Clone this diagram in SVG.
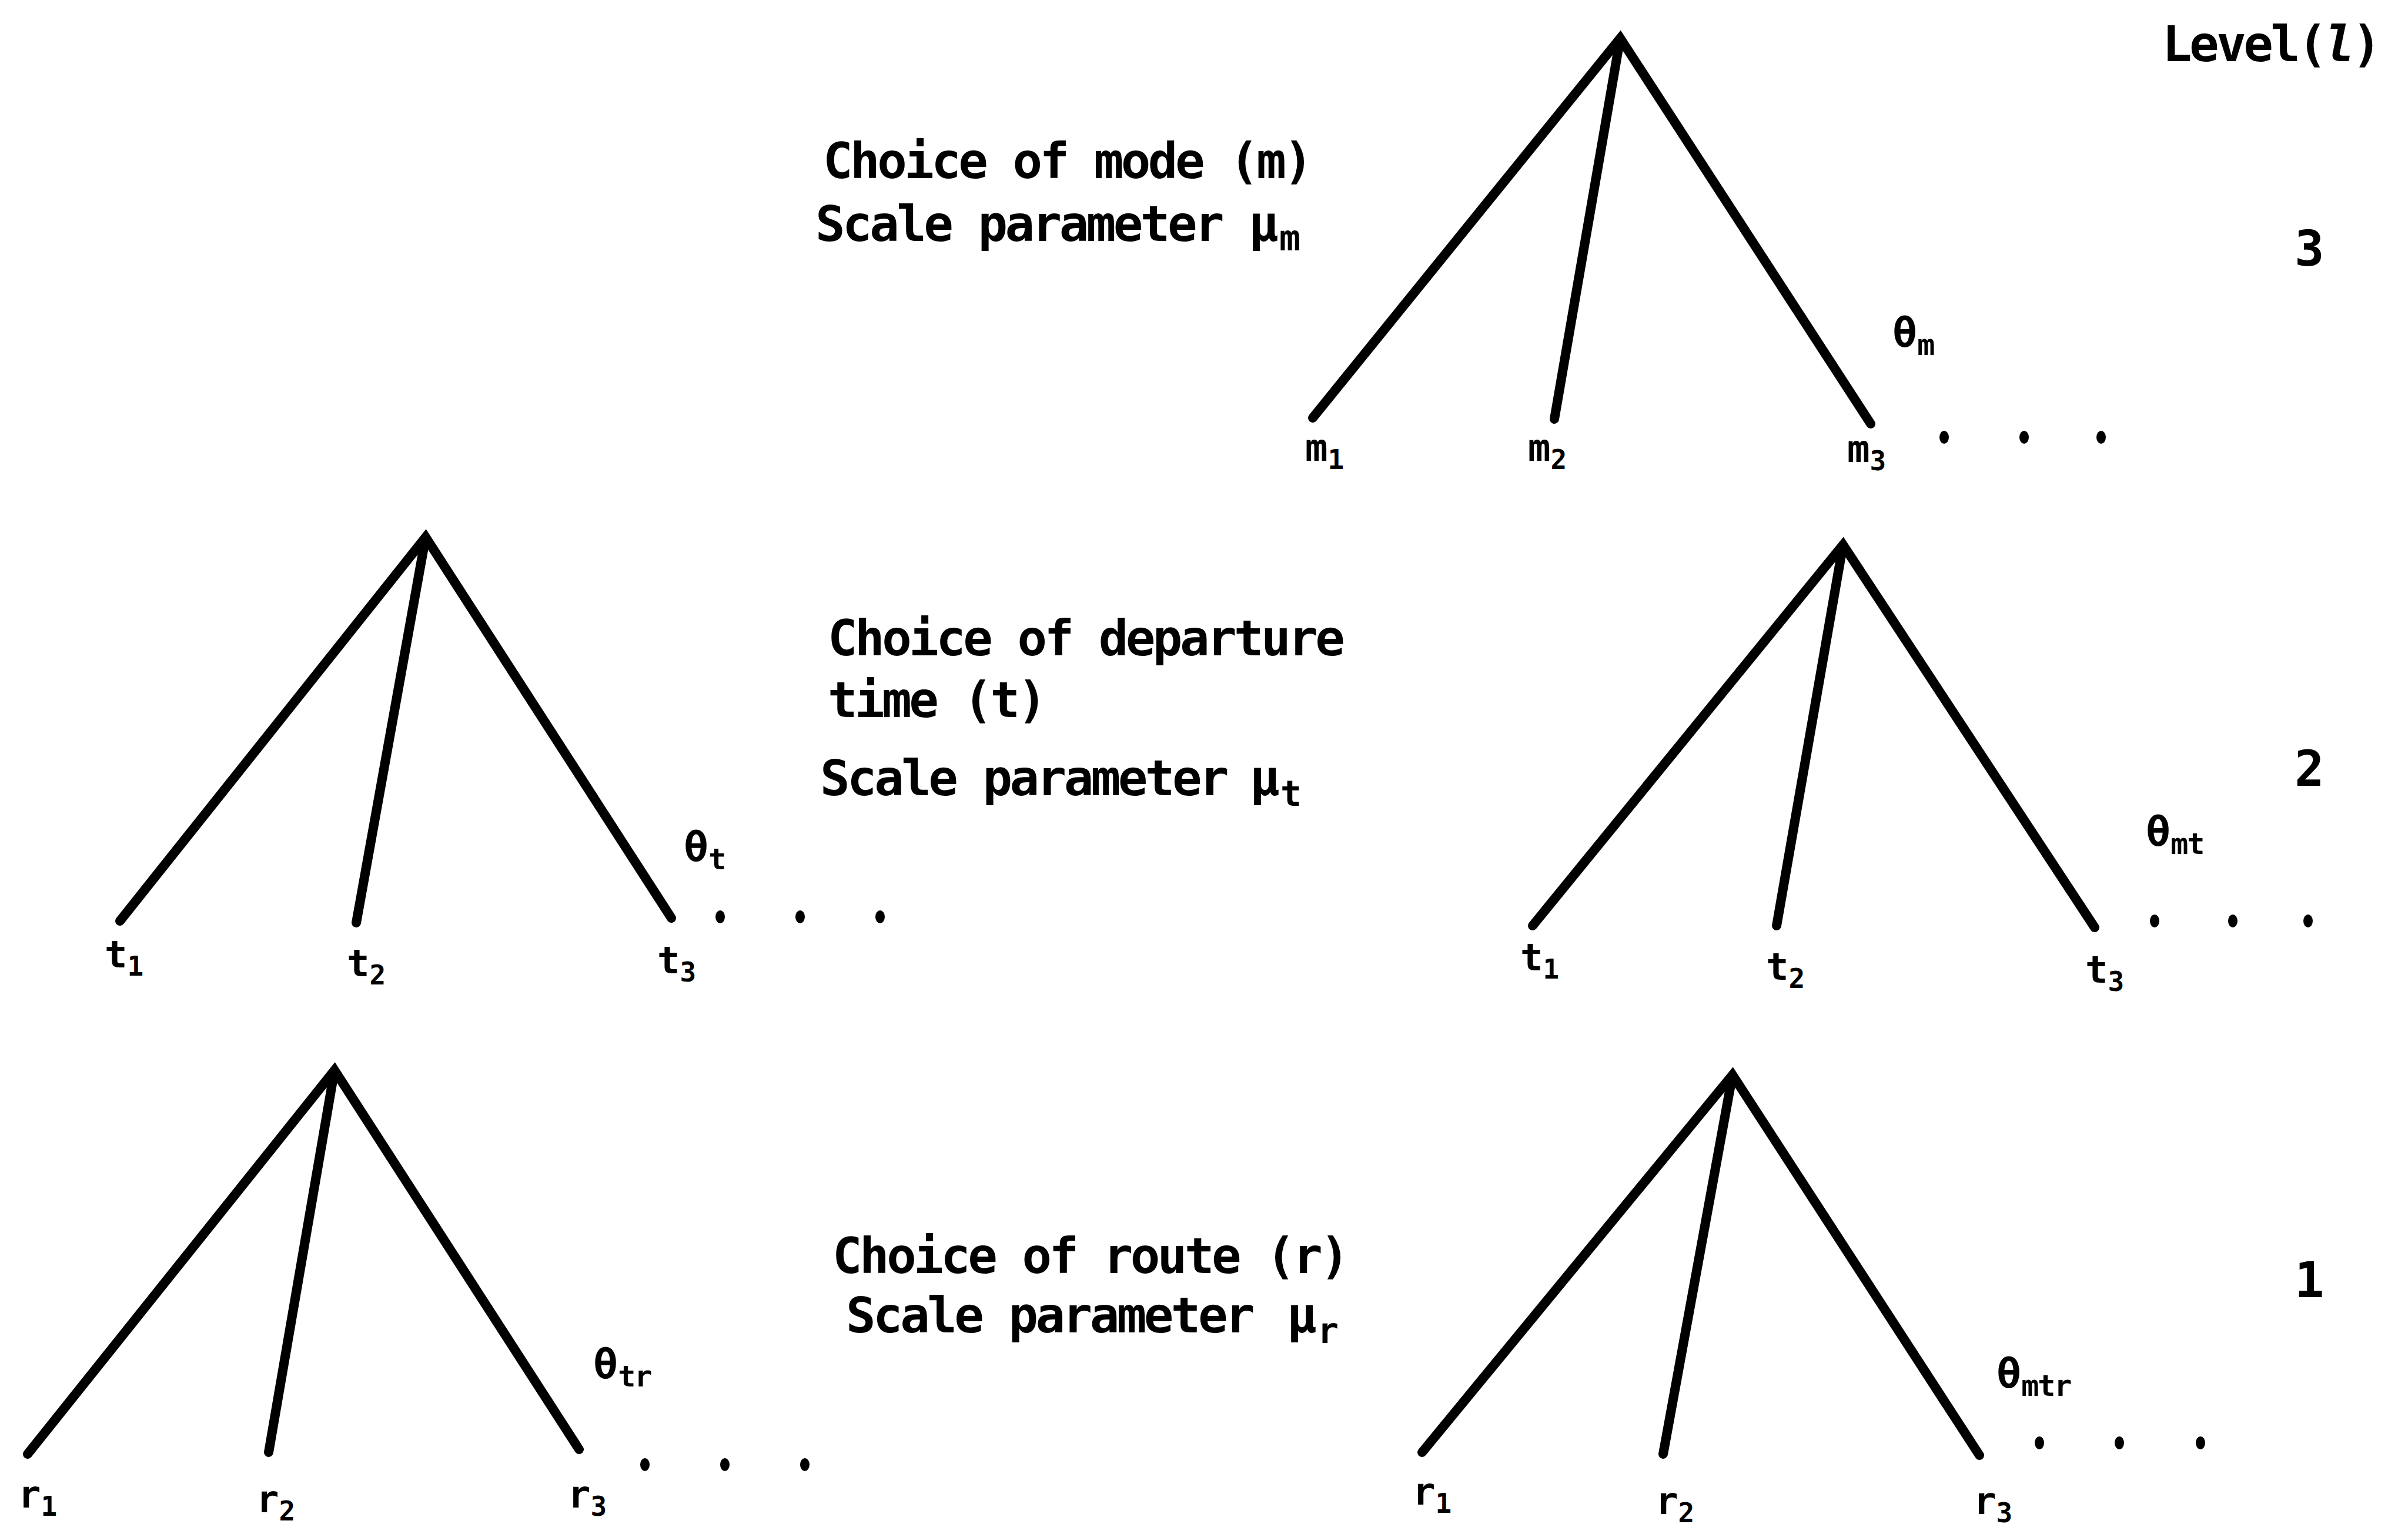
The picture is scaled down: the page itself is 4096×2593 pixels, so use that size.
<svg xmlns="http://www.w3.org/2000/svg" width="4096" height="2593" viewBox="0 0 4096 2593">
<style>
.t{font-family:"DejaVu Sans Mono","Liberation Mono",monospace;font-weight:bold;fill:#000}
.body{font-size:84px;letter-spacing:-4.5px}
.leaf{font-size:64px}
.sub{font-size:46px}
.msub{font-size:60px;letter-spacing:-3px}
.th{font-size:70px}
.tsub{font-size:50px;letter-spacing:-2px}
.leg{stroke:#000;stroke-width:16;fill:none;stroke-linecap:round;stroke-linejoin:miter}
.dot{fill:#000}
</style>
<rect width="4096" height="2593" fill="#fff"/>

<g id="connectors">
  <path class="leg" d="M2233,711 L2756,65 L3182,721 M2756,65 L2644,713"/>
  <path class="leg" d="M204,1567 L724,914 L1142,1562 M724,914 L606,1570"/>
  <path class="leg" d="M2607,1575 L3135,927 L3563,1578 M3135,927 L3022,1575"/>
  <path class="leg" d="M47,2474 L569,1821 L985,2466 M569,1821 L457,2471"/>
  <path class="leg" d="M2419,2471 L2947,1829 L3367,2476 M2947,1829 L2829,2474"/>
</g>

<g id="level-header"><text class="t body" x="3678" y="104">Level(<tspan font-style="italic">l</tspan>)</text></g>
<g id="level-3"><text class="t body" x="3926" y="452" text-anchor="middle">3</text></g>
<g id="level-2"><text class="t body" x="3926" y="1337" text-anchor="middle">2</text></g>
<g id="level-1"><text class="t body" x="3926" y="2207" text-anchor="middle">1</text></g>

<g id="label-mode">
  <text class="t body" x="1400" y="303">Choice of mode (m)</text>
  <text class="t body" x="1387" y="410">Scale parameter <tspan x="2124">μ</tspan><tspan class="msub" dx="6" dy="16">m</tspan></text>
</g>
<g id="label-time">
  <text class="t body" x="1408" y="1115">Choice of departure</text>
  <text class="t body" x="1408" y="1220">time (t)</text>
  <text class="t body" x="1395" y="1353">Scale parameter <tspan x="2126">μ</tspan><tspan class="msub" dx="6" dy="18">t</tspan></text>
</g>
<g id="label-route">
  <text class="t body" x="1416" y="2166">Choice of route (r)</text>
  <text class="t body" x="1439" y="2267">Scale parameter <tspan x="2189">μ</tspan><tspan class="msub" dx="6" dy="18">r</tspan></text>
</g>

<g id="tree-mode">
  <g id="node-m1"><text class="t leaf" x="2220" y="784">m<tspan class="sub" dy="14">1</tspan></text></g>
  <g id="node-m2"><text class="t leaf" x="2599" y="784">m<tspan class="sub" dy="14">2</tspan></text></g>
  <g id="node-m3"><text class="t leaf" x="3142" y="786">m<tspan class="sub" dy="14">3</tspan></text></g>
  <g id="theta-m"><text class="t th" x="3219" y="590">θ<tspan class="tsub" dy="14">m</tspan></text></g>
  <g id="dots-m"><ellipse class="dot" cx="3307" cy="744" rx="8" ry="11"/><ellipse class="dot" cx="3443" cy="744" rx="8" ry="11"/><ellipse class="dot" cx="3574" cy="744" rx="8" ry="11"/></g>
</g>

<g id="tree-time-left">
  <g id="node-t1a"><text class="t leaf" x="178" y="1646">t<tspan class="sub" dy="14">1</tspan></text></g>
  <g id="node-t2a"><text class="t leaf" x="590" y="1661">t<tspan class="sub" dy="14">2</tspan></text></g>
  <g id="node-t3a"><text class="t leaf" x="1118" y="1656">t<tspan class="sub" dy="14">3</tspan></text></g>
  <g id="theta-t"><text class="t th" x="1163" y="1465">θ<tspan class="tsub" dy="14">t</tspan></text></g>
  <g id="dots-t"><ellipse class="dot" cx="1225" cy="1560" rx="8" ry="11"/><ellipse class="dot" cx="1361" cy="1560" rx="8" ry="11"/><ellipse class="dot" cx="1497" cy="1560" rx="8" ry="11"/></g>
</g>

<g id="tree-time-right">
  <g id="node-t1b"><text class="t leaf" x="2586" y="1651">t<tspan class="sub" dy="14">1</tspan></text></g>
  <g id="node-t2b"><text class="t leaf" x="3004" y="1667">t<tspan class="sub" dy="14">2</tspan></text></g>
  <g id="node-t3b"><text class="t leaf" x="3547" y="1672">t<tspan class="sub" dy="14">3</tspan></text></g>
  <g id="theta-mt"><text class="t th" x="3650" y="1439">θ<tspan class="tsub" dy="14">mt</tspan></text></g>
  <g id="dots-mt"><ellipse class="dot" cx="3665" cy="1567" rx="8" ry="11"/><ellipse class="dot" cx="3798" cy="1567" rx="8" ry="11"/><ellipse class="dot" cx="3926" cy="1567" rx="8" ry="11"/></g>
</g>

<g id="tree-route-left">
  <g id="node-r1a"><text class="t leaf" x="31" y="2565">r<tspan class="sub" dy="14">1</tspan></text></g>
  <g id="node-r2a"><text class="t leaf" x="436" y="2573">r<tspan class="sub" dy="14">2</tspan></text></g>
  <g id="node-r3a"><text class="t leaf" x="966" y="2565">r<tspan class="sub" dy="14">3</tspan></text></g>
  <g id="theta-tr"><text class="t th" x="1009" y="2345">θ<tspan class="tsub" dy="14">tr</tspan></text></g>
  <g id="dots-tr"><ellipse class="dot" cx="1097" cy="2492" rx="8" ry="11"/><ellipse class="dot" cx="1233" cy="2492" rx="8" ry="11"/><ellipse class="dot" cx="1369" cy="2492" rx="8" ry="11"/></g>
</g>

<g id="tree-route-right">
  <g id="node-r1b"><text class="t leaf" x="2403" y="2560">r<tspan class="sub" dy="14">1</tspan></text></g>
  <g id="node-r2b"><text class="t leaf" x="2816" y="2576">r<tspan class="sub" dy="14">2</tspan></text></g>
  <g id="node-r3b"><text class="t leaf" x="3357" y="2576">r<tspan class="sub" dy="14">3</tspan></text></g>
  <g id="theta-mtr"><text class="t th" x="3396" y="2361">θ<tspan class="tsub" dy="14">mtr</tspan></text></g>
  <g id="dots-mtr"><ellipse class="dot" cx="3469" cy="2455" rx="8" ry="11"/><ellipse class="dot" cx="3605" cy="2455" rx="8" ry="11"/><ellipse class="dot" cx="3743" cy="2455" rx="8" ry="11"/></g>
</g>
</svg>
